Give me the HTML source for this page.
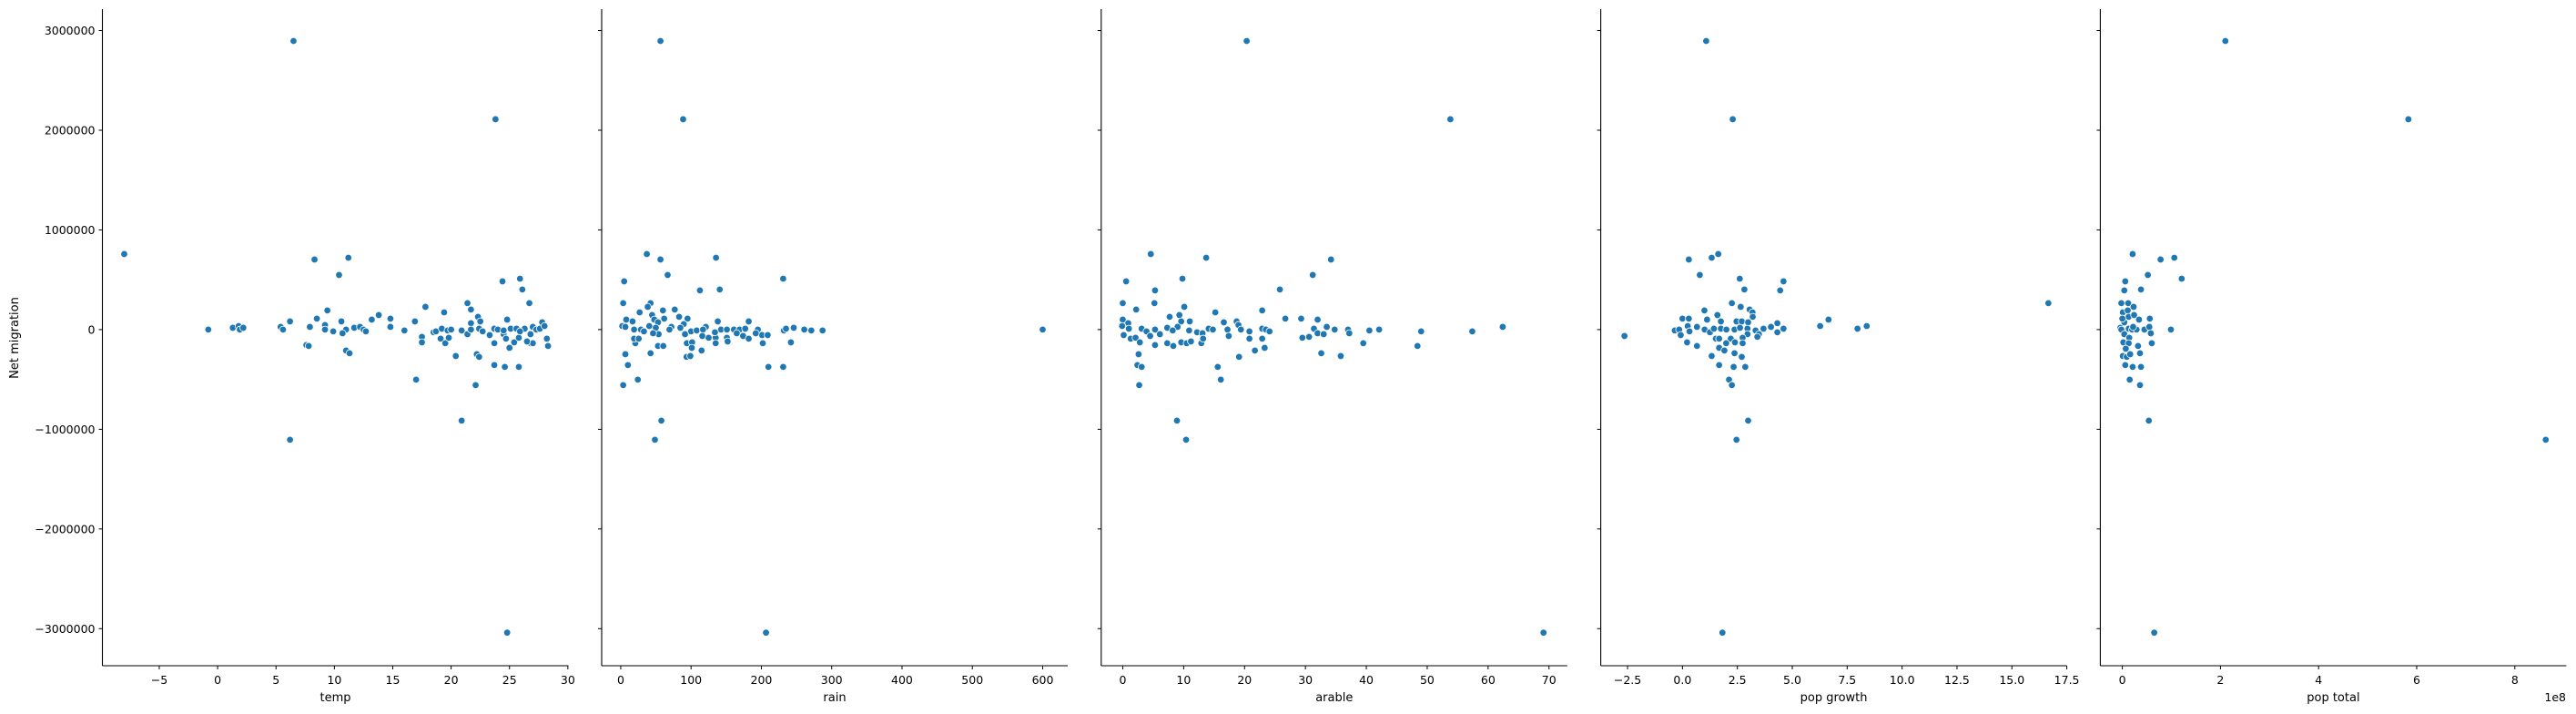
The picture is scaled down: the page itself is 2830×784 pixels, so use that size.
<!DOCTYPE html>
<html><head><meta charset="utf-8"><style>
html,body{margin:0;padding:0;background:#fff;}
svg{display:block;font-family:"DejaVu Sans","Liberation Sans",sans-serif;}
</style></head><body>
<svg id="chart" width="2830" height="784" viewBox="0 0 2830 784" xmlns="http://www.w3.org/2000/svg"></svg>
<script>
// ---- data (Net migration vs features) ----
const yTicks = [-3000000,-2000000,-1000000,0,1000000,2000000,3000000];
const yTickLabels = ["\u22123000000","\u22122000000","\u22121000000","0","1000000","2000000","3000000"];

const tempX = [-8.0,6.5,23.8,6.2,24.8,20.9,8.3,11.2,10.4,24.4,25.9,26.1,26.7,21.4,21.7,17.8,19.4,22.3,9.4,13.8,13.2,14.8,8.5,24.8,22.5,21.7,27.8,6.2,10.6,16.9,-0.8,1.3,1.8,1.9,2.2,5.4,5.6,7.9,9.2,9.2,9.9,11.0,10.7,11.7,12.2,12.5,12.7,14.8,16.0,7.6,7.8,11.0,11.3,17.5,17.5,17.0,18.5,18.7,19.2,19.1,19.5,19.8,19.7,20.0,20.4,20.9,21.4,21.7,22.2,22.4,22.1,22.4,22.7,23.3,23.7,23.7,24.6,25.8,23.7,24.0,24.5,24.7,25.0,25.4,25.8,25.1,25.6,26.3,26.8,26.8,27.0,26.5,27.0,27.3,27.6,28.0,28.2,28.3,24.5,25.9];
const tempY = [758000,2895000,2110000,-1105000,-3040000,-913000,703000,721000,548000,484000,511000,402000,265000,265000,201000,228000,173000,128000,192000,146000,100000,110000,110000,100000,82000,64000,73000,82000,82000,82000,0,18000,36000,0,18000,27000,0,27000,46000,0,-18000,0,-37000,18000,27000,0,-18000,27000,-9000,-155000,-164000,-210000,-237000,-73000,-128000,-502000,-27000,-18000,9000,-91000,-137000,-82000,-9000,0,-265000,-9000,-46000,0,-247000,-274000,-557000,9000,-18000,-55000,-137000,-356000,-374000,-374000,9000,0,-46000,-91000,-183000,-128000,-82000,9000,9000,9000,-46000,-137000,-137000,-119000,27000,0,9000,36000,-91000,-164000,-9000,-18000];

const rainX = [56.5,88.7,206.6,48.6,57.8,3.5,24.3,10.2,6.6,42.4,210,231,242,37.1,56.5,135.5,66.7,4.9,231,112.6,140.8,3.5,42.4,38.4,26.9,76.8,60,44.6,83,47.7,61.8,95,7.9,16.8,138,182,53,89.6,2.2,6.6,40.6,49.9,72,84.8,121,19,28.7,69.3,100,108,117,142.6,151,161,169,177,195,232,235,246,261,271,287,600,20.8,19,25.6,53.9,53,60.5,91.4,94,101.5,101,93.6,99,115,116,125,135,135,134,151,152,165,174,182,202,201,209,192,33,46];
const rainY = [2895000,2110000,-3040000,-1105000,-913000,-557000,-502000,-356000,-247000,-237000,-374000,-374000,-128000,758000,703000,721000,548000,484000,511000,393000,402000,265000,265000,228000,173000,201000,192000,146000,128000,100000,110000,110000,100000,82000,82000,82000,73000,55000,36000,27000,36000,18000,27000,18000,27000,0,0,0,-18000,-9000,0,0,0,0,0,9000,0,-9000,9000,18000,0,-9000,-9000,0,-137000,-91000,-91000,-46000,-164000,-164000,-46000,-137000,-128000,-183000,-274000,-265000,-210000,-64000,-82000,-82000,-137000,-27000,-82000,-119000,-37000,-64000,-91000,-137000,-55000,-55000,-37000,-18000,-37000];

const arableX = [20.35,53.8,69.1,8.9,10.4,4.6,13.7,34.2,31.2,9.8,0.55,5.3,25.8,0,5.2,10.1,2.2,22.9,15.2,7.7,9.3,26.7,29.3,32,0,11,9.6,16.6,18.7,19,0.9,-0.1,1,3.1,3.9,5.3,7.3,9.0,8.2,10.9,12.2,13.1,14.1,14.8,17.2,19.4,20.8,22.9,23.5,24.1,31.4,32,33,33.5,34.8,37.0,37.2,40.5,42.1,49.0,57.4,62.4,0.15,1.3,2.1,2.8,4.5,6.1,5.3,7.3,8.3,9.6,10.5,11.2,12.9,13.2,17.4,20.8,22.9,21.7,23.3,19.1,29.5,30.6,32.6,35.8,39.5,48.4,2.6,2.4,3.1,2.7,15.6,16.1];
const arableY = [2895000,2110000,-3040000,-913000,-1105000,758000,721000,703000,548000,511000,484000,393000,402000,265000,265000,228000,201000,192000,173000,128000,146000,110000,110000,100000,100000,82000,82000,73000,82000,46000,64000,36000,9000,9000,-18000,0,18000,27000,-9000,-9000,-27000,-37000,9000,0,0,0,-18000,9000,0,-18000,9000,-37000,-46000,27000,0,0,-37000,-9000,0,-18000,-18000,27000,-55000,-91000,-82000,-128000,-64000,-46000,-155000,-137000,-164000,-128000,-137000,-119000,-137000,-91000,-64000,-91000,-91000,-210000,-183000,-274000,-82000,-73000,-237000,-265000,-137000,-164000,-247000,-356000,-374000,-557000,-374000,-502000];

const growthX = [1.08,2.29,1.82,2.99,2.46,-2.64,16.66,1.63,0.29,1.33,0.79,2.61,4.6,4.45,2.82,2.25,2.65,1.0,3.06,3.19,3.2,1.59,0,0.29,1.12,1.75,2.46,2.7,2.99,4.32,6.65,6.27,8.39,7.97,4.6,4.03,3.69,4.32,-0.35,-0.15,-0.08,0.24,0.32,0.66,1.01,1.25,1.43,1.75,2.0,2.37,2.62,2.96,2.96,3.33,3.48,3.41,1.52,1.67,2.2,2.74,0.21,0.66,1.67,1.91,1.99,2.39,2.74,1.33,2.37,2.7,1.67,2.33,2.86,2.12,2.25];
const growthY = [2895000,2110000,-3040000,-913000,-1105000,-64000,265000,758000,703000,721000,548000,511000,484000,393000,402000,265000,228000,192000,201000,173000,128000,146000,110000,110000,100000,82000,82000,82000,73000,64000,100000,36000,36000,9000,9000,27000,9000,-27000,-9000,0,-55000,36000,-18000,27000,0,-27000,9000,9000,0,0,18000,9000,-46000,-9000,-46000,-73000,-91000,-91000,-91000,-82000,-128000,-164000,-183000,-210000,-137000,-128000,-137000,-265000,-237000,-274000,-356000,-374000,-374000,-502000,-557000];

const popX = [2.10,5.83,0.65,8.63,0.54,0.21,0.78,1.06,0.52,1.21,0.06,0.04,0.38,-0.02,0.12,0.23,0.01,0.11,0.13,0.24,0.34,0.56,0.04,-0.04,-0.02,0.13,0.2,0.29,0.45,0.55,0.99,0.58,0.6,0.04,0.02,0.14,0.13,0.07,0.32,0.36,0.01,0.09,0.16,0.06,0.21,0.38,0.15,0.36,0,0.22];
const popY = [2895000,2110000,-3040000,-1105000,-913000,758000,703000,721000,548000,511000,484000,393000,402000,265000,265000,228000,173000,192000,128000,146000,100000,110000,73000,18000,0,9000,0,0,0,27000,0,-37000,-137000,-46000,-128000,-82000,-137000,-192000,-164000,-237000,-265000,-274000,-247000,-356000,-374000,-374000,-502000,-557000,110000,27000];

const tempTicks = [-5,0,5,10,15,20,25,30];
const rainTicks = [0,100,200,300,400,500,600];
const arableTicks = [0,10,20,30,40,50,60,70];
const growthTicks = [-2.5,0,2.5,5,7.5,10,12.5,15,17.5];
const growthTickLabels = ["\u22122.5","0.0","2.5","5.0","7.5","10.0","12.5","15.0","17.5"];
const popTicks = [0,2,4,6,8];

// ---- layout ----
const NS = "http://www.w3.org/2000/svg";
const svg = document.getElementById('chart');
const TOP = 10, BOT = 731, PW = 512;
const yMin = -3372000, yMax = 3215000;
function yScale(v){ return BOT - (v - yMin) / (yMax - yMin) * (BOT - TOP); }
function mk(tag, attrs){ const e = document.createElementNS(NS, tag); for (const k in attrs) e.setAttribute(k, attrs[k]); return e; }
function fmt(v){ return (v < 0 ? "\u2212" : "") + Math.abs(v); }

const panels = [
  {name:'temp', left:112.5, xmin:-9.87, xmax:30.05, xs:tempX, ys:tempY, ticks:tempTicks, labels:null},
  {name:'rain', left:661, xmin:-27.1, xmax:635.6, xs:rainX, ys:rainY, ticks:rainTicks, labels:null},
  {name:'arable', left:1209.8, xmin:-3.54, xmax:73.0, xs:arableX, ys:arableY, ticks:arableTicks, labels:null},
  {name:'pop growth', left:1758.6, xmin:-3.72, xmax:17.5, xs:growthX, ys:growthY, ticks:growthTicks, labels:growthTickLabels},
  {name:'pop total', left:2307.4, xmin:-0.449, xmax:9.05, xs:popX, ys:popY, ticks:popTicks, labels:null}
];

panels.forEach((p, pi) => {
  const slug = p.name.replace(' ', '-');
  const g = mk('g', {});
  
  
  svg.appendChild(g);
  const xs = v => p.left + (v - p.xmin) / (p.xmax - p.xmin) * PW;

  // y ticks
  yTicks.forEach((t, i) => {
    const y = yScale(t);
    const tk = mk('line', {x1:p.left-4, x2:p.left, y1:y, y2:y, stroke:'#000', 'stroke-width':1});
    
    
    g.appendChild(tk);
    if (pi === 0) {
      const tl = mk('text', {x:p.left-8, y:y+4.5, 'text-anchor':'end', 'font-size':12.5, fill:'#000'});
      
      
      tl.textContent = yTickLabels[i];
      g.appendChild(tl);
    }
  });
  // x ticks
  p.ticks.forEach((t, i) => {
    const x = xs(t);
    const tk = mk('line', {x1:x, x2:x, y1:BOT, y2:BOT+4, stroke:'#000', 'stroke-width':1});
    
    
    g.appendChild(tk);
    const tl = mk('text', {x:x, y:BOT+20, 'text-anchor':'middle', 'font-size':12.5, fill:'#000'});
    
    
    tl.textContent = p.labels ? p.labels[i] : fmt(t);
    g.appendChild(tl);
  });
  // spines
  const ls = mk('line', {x1:p.left, x2:p.left, y1:TOP, y2:BOT, stroke:'#000', 'stroke-width':1.1});
  
  
  g.appendChild(ls);
  const bs = mk('line', {x1:p.left, x2:p.left+PW, y1:BOT, y2:BOT, stroke:'#000', 'stroke-width':1.1});
  
  
  g.appendChild(bs);
  // x label
  const xl = mk('text', {x:p.left+PW/2, y:BOT+39, 'text-anchor':'middle', 'font-size':13, fill:'#000'});
  
  
  xl.textContent = p.name;
  g.appendChild(xl);
  // points
  p.xs.forEach((v, i) => {
    const c = mk('circle', {cx:xs(v), cy:yScale(p.ys[i]), r:3.8, fill:'#1f77b4', stroke:'#fff', 'stroke-width':0.8});
    
    
    g.appendChild(c);
  });
});

// y axis title
const yt = mk('text', {x:0, y:0, 'text-anchor':'middle', 'font-size':13, fill:'#000', transform:'translate(20,371) rotate(-90)'});


yt.textContent = 'Net migration';
svg.appendChild(yt);

// offset label
const off = mk('text', {x:2819, y:BOT+39, 'text-anchor':'end', 'font-size':12.5, fill:'#000'});


off.textContent = '1e8';
svg.appendChild(off);
</script>
</body></html>
